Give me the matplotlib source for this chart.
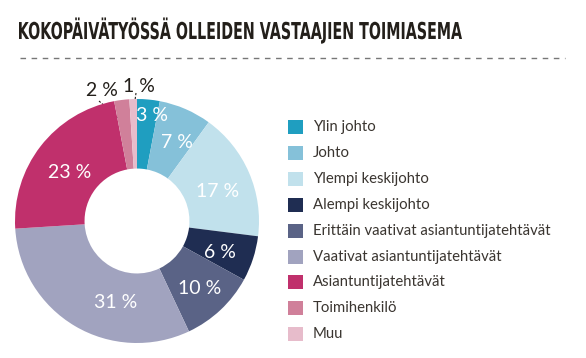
import numpy as np
import matplotlib.pyplot as plt
from matplotlib.patches import Rectangle, PathPatch
from matplotlib.textpath import TextPath
from matplotlib.font_manager import FontProperties
from matplotlib.transforms import Affine2D

# data
categories = ["Ylin johto", "Johto", "Ylempi keskijohto", "Alempi keskijohto",
              "Erittäin vaativat asiantuntijatehtävät", "Vaativat asiantuntijatehtävät",
              "Asiantuntijatehtävät", "Toimihenkilö", "Muu"]
values = [3, 7, 17, 6, 10, 31, 23, 2, 1]
colors = ["#1f9ec0", "#85c1d9", "#c1e1ec", "#1f2d52", "#5a6386",
          "#a1a3bf", "#c0306c", "#d0809a", "#e7bccb"]
title = "KOKOPÄIVÄTYÖSSÄ OLLEIDEN VASTAAJIEN TOIMIASEMA"

W, H = 586, 358
fig = plt.figure(figsize=(W / 100, H / 100), dpi=100)

def fx(px):
    return px / W

def fy(py):
    return 1 - py / H

# pixel overlay axes (y downwards)
pax = fig.add_axes([0, 0, 1, 1])
pax.set_xlim(0, W)
pax.set_ylim(H, 0)
pax.axis("off")

# title as condensed path: squeeze bold text to the reference width
tp = TextPath((0, 0), title, size=100, prop=FontProperties(family="DejaVu Sans", weight="bold"))
ext = tp.get_extents()
cap_h = 17.0
sy = cap_h / 73.0          # DejaVu cap height ~0.73 em
sx = (462 - 19) / ext.width
tr = Affine2D().translate(-ext.x0, 0).scale(sx, -sy).translate(19, 39)
pax.add_patch(PathPatch(tr.transform_path(tp), color="#231f1a", lw=0))

pax.plot([20, 565], [58, 58], color="#777777", lw=1, dashes=(4, 4))

# donut
cx, cy, R = 137, 221, 122
ax = fig.add_axes([fx(cx - R), fy(cy + R), fx(2 * R), (2 * R) / H])
wedges, _ = ax.pie(values, colors=colors, startangle=90, counterclock=False,
                   radius=1, wedgeprops=dict(width=0.57, linewidth=0))
ax.set_xlim(-1, 1)
ax.set_ylim(-1, 1)
ax.set_aspect("auto")
ax.axis("off")

lbl_font = dict(family="Lato", fontweight="normal", fontsize=14)
radii = [0.877, 0.726, 0.706, 0.726, 0.754, 0.69, 0.68]
shift = [2.6, 3.5, 3.4, 2.5, 0, -16, -1.6]   # degrees clockwise
for i, w in enumerate(wedges[:7]):
    ang = np.deg2rad((w.theta1 + w.theta2) / 2 - shift[i])
    r = radii[i]
    ax.text(r * np.cos(ang), r * np.sin(ang), f"{values[i]} %", color="white",
            ha="center", va="center", **lbl_font)

# outside labels for small slices
outside = {7: ((102, 91), (99, 101), (124, 123)),
           8: ((139, 86), (136, 93), (133, 115))}
for i, (tpos, p0, p1) in outside.items():
    pax.text(tpos[0], tpos[1], f"{values[i]} %", color="#231f1a",
             ha="center", va="center", **lbl_font)
    pax.plot([p0[0], p1[0]], [p0[1], p1[1]], color="#231f1a", lw=0.8, dashes=(2, 1.5))

# legend
y0, dy = 127, 25.9
for i, (c, name) in enumerate(zip(colors, categories)):
    y = y0 + i * dy
    pax.add_patch(Rectangle((288, y - 7), 15, 14, color=c, lw=0))
    pax.text(313, y, name, fontsize=10.7, color="#3a3530", va="center",
             ha="left", family="Lato", fontweight="normal")

fig.savefig("out.png", dpi=100)
